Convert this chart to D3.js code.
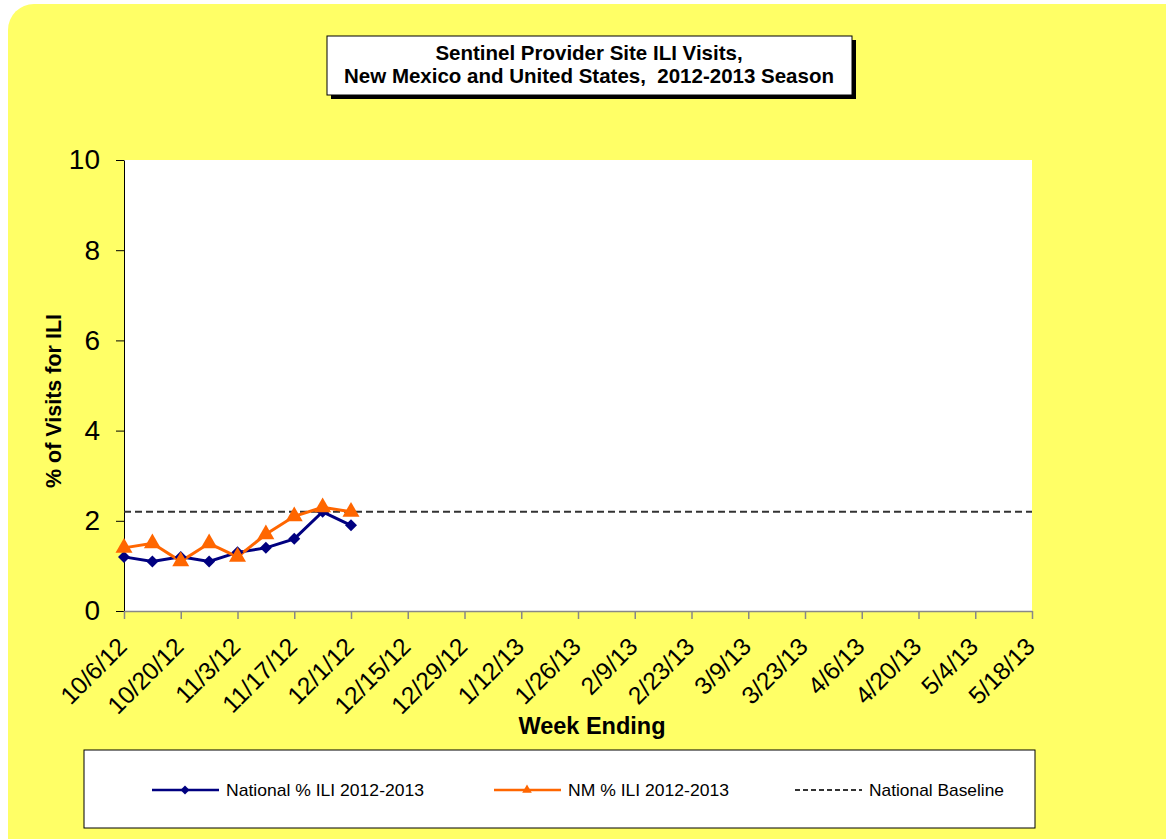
<!DOCTYPE html>
<html>
<head>
<meta charset="utf-8">
<script src="https://cdn.jsdelivr.net/npm/d3@7"></script>
<style>
  body { margin: 0; background: #fff; }
  text { font-family: "Liberation Sans", Arial, sans-serif; }
</style>
</head>
<body>
<div id="chart"></div>
<script>
// week ending dates, 2012-2013 season
const weeks = ["10/6/12","10/13/12","10/20/12","10/27/12","11/3/12","11/10/12","11/17/12","11/24/12",
  "12/1/12","12/8/12","12/15/12","12/22/12","12/29/12","1/5/13","1/12/13","1/19/13","1/26/13",
  "2/2/13","2/9/13","2/16/13","2/23/13","3/2/13","3/9/13","3/16/13","3/23/13","3/30/13","4/6/13",
  "4/13/13","4/20/13","4/27/13","5/4/13","5/11/13","5/18/13"];
const national = [1.2, 1.1, 1.2, 1.1, 1.3, 1.4, 1.6, 2.2, 1.9];
const nm = [1.4, 1.5, 1.1, 1.5, 1.2, 1.7, 2.1, 2.3, 2.2];
const baseline = 2.2;
const yTicks = [0, 2, 4, 6, 8, 10];

const W = 1166, H = 839;
const svg = d3.select("#chart").append("svg").attr("width", W).attr("height", H);

// yellow panel
svg.append("rect").attr("x", 8).attr("y", 4).attr("width", W + 30).attr("height", H + 30)
  .attr("rx", 26).attr("fill", "#ffff66");

const pL = 124, pR = 1032, pT = 160, pB = 611;
const x = d3.scalePoint().domain(weeks).range([pL, pR]);
const y = d3.scaleLinear().domain([0, 10]).range([pB, pT]);

svg.append("rect").attr("x", pL).attr("y", pT).attr("width", pR - pL).attr("height", pB - pT)
  .attr("fill", "#fff");

// y axis
const yAxis = svg.append("g").attr("transform", `translate(${pL},0)`)
  .call(d3.axisLeft(y).tickValues(yTicks).tickSize(8).tickSizeOuter(0).tickPadding(16));
yAxis.select(".domain").attr("stroke", "#000");
yAxis.selectAll("text").attr("font-size", 28).attr("fill", "#000");

// x axis
const xAxis = svg.append("g").attr("transform", `translate(0,${pB})`)
  .call(d3.axisBottom(x).tickValues(weeks.filter((d, i) => i % 2 === 0)).tickSize(8).tickSizeOuter(0));
xAxis.select(".domain").attr("stroke", "#888").attr("stroke-width", 1.5);
xAxis.selectAll(".tick line").attr("stroke", "#888").attr("stroke-width", 1.5);
xAxis.selectAll("text").attr("font-size", 24.5).attr("fill", "#000")
  .attr("text-anchor", "end")
  .attr("x", 0).attr("y", 0).attr("dy", "0")
  .attr("transform", "translate(4,37) rotate(-45)");

// baseline
svg.append("line").attr("x1", pL).attr("x2", pR).attr("y1", y(baseline)).attr("y2", y(baseline))
  .attr("stroke", "#333").attr("stroke-width", 2).attr("stroke-dasharray", "7,4");

const line = d3.line().x((d, i) => x(weeks[i])).y(d => y(d));

svg.append("path").datum(national).attr("d", line).attr("fill", "none")
  .attr("stroke", "#000080").attr("stroke-width", 3);
svg.append("path").datum(nm).attr("d", line).attr("fill", "none")
  .attr("stroke", "#ff6600").attr("stroke-width", 3);

// diamond = square turned 45 degrees
const diamond = d3.symbol().type(d3.symbolSquare).size(72);
const tri = d3.symbol().type(d3.symbolTriangle).size(125);

svg.selectAll(".nat").data(national).join("path")
  .attr("d", diamond).attr("fill", "#000080")
  .attr("transform", (d, i) => `translate(${x(weeks[i])},${y(d)}) rotate(45)`);
svg.selectAll(".nmp").data(nm).join("path")
  .attr("d", tri).attr("fill", "#ff6600")
  .attr("transform", (d, i) => `translate(${x(weeks[i])},${y(d)})`);

// axis titles
svg.append("text").attr("transform", `translate(61,401) rotate(-90)`)
  .attr("text-anchor", "middle").attr("font-size", 21.5).attr("font-weight", "bold").text("% of Visits for ILI");
svg.append("text").attr("x", 592).attr("y", 734)
  .attr("text-anchor", "middle").attr("font-size", 23.5).attr("font-weight", "bold").text("Week Ending");

// title box
svg.append("rect").attr("x", 331).attr("y", 40).attr("width", 525).attr("height", 59).attr("fill", "#000");
svg.append("rect").attr("x", 327).attr("y", 36).attr("width", 525).attr("height", 59)
  .attr("fill", "#fff").attr("stroke", "#000").attr("stroke-width", 1);
const title = svg.append("text").attr("text-anchor", "middle").attr("font-size", 20.5).attr("font-weight", "bold")
  .style("white-space", "pre");
title.append("tspan").attr("x", 589).attr("y", 60).text("Sentinel Provider Site ILI Visits,");
title.append("tspan").attr("x", 589).attr("y", 83).text("New Mexico and United States,  2012-2013 Season");

// legend
svg.append("rect").attr("x", 84).attr("y", 750).attr("width", 951).attr("height", 78)
  .attr("fill", "#fff").attr("stroke", "#000").attr("stroke-width", 1);
const legendItems = [
  { label: "National % ILI 2012-2013", color: "#000080", sym: d3.symbolSquare, rot: 45, x: 152, w: 198, dash: null },
  { label: "NM % ILI 2012-2013", color: "#ff6600", sym: d3.symbolTriangle, rot: 0, x: 494, w: 161, dash: null },
  { label: "National Baseline", color: "#333", sym: null, rot: 0, x: 795, w: 135, dash: "5,3" }
];
const ly = 790;
legendItems.forEach(it => {
  svg.append("line").attr("x1", it.x).attr("x2", it.x + 67).attr("y1", ly).attr("y2", ly)
    .attr("stroke", it.color).attr("stroke-width", it.dash ? 2 : 2.5).attr("stroke-dasharray", it.dash);
  if (it.sym) svg.append("path").attr("d", d3.symbol().type(it.sym).size(40)()).attr("fill", it.color)
    .attr("transform", `translate(${it.x + 33},${ly}) rotate(${it.rot})`);
  svg.append("text").attr("x", it.x + 74).attr("y", ly + 6).attr("font-size", 17)
    .attr("textLength", it.w).attr("lengthAdjust", "spacingAndGlyphs").text(it.label);
});
</script>
</body>
</html>
